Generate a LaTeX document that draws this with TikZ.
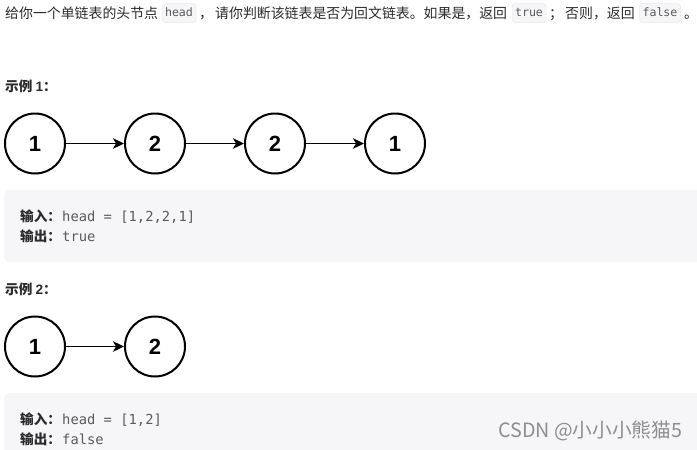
\documentclass[tikz,border=0pt]{standalone}
\usepackage{fontspec}
\setmainfont{Noto Sans CJK SC}
\newfontfamily\numfont{Liberation Sans}
\setmonofont{DejaVu Sans Mono}
\usetikzlibrary{arrows.meta}
\definecolor{boxgray}{HTML}{F6F6F8}
\definecolor{codeline}{HTML}{E9E9EC}
\definecolor{inktext}{HTML}{2B2B2B}
\definecolor{codetext}{HTML}{5A5A5A}
\definecolor{marktext}{HTML}{8E8E8E}
\tikzset{
  listnode/.style={circle,draw,line width=2pt,minimum size=60pt,inner sep=0pt,font=\numfont\bfseries\fontsize{22}{22}\selectfont},
  link/.style={line width=1.8pt,-{Stealth[length=11pt,width=10.5pt,inset=3pt]}},
  plain/.style={anchor=base west,inner sep=0pt,text=inktext,font=\fontsize{13.9}{16}\selectfont},
  heading/.style={plain,font=\bfseries\fontsize{13.6}{16}\selectfont},
  inline/.style={rounded corners=3pt,draw=codeline,fill=boxgray,line width=0.5pt,inner sep=0pt,text=codetext,text height=10pt,text depth=3pt,font=\ttfamily\fontsize{11.6}{14}\selectfont},
  panel/.style={rounded corners=6pt,fill=boxgray},
  code/.style={anchor=base west,inner sep=0pt,text=codetext,font=\ttfamily\fontsize{13.8}{16}\selectfont}
}
\begin{document}
\begin{tikzpicture}[x=1pt,y=-1pt]
  \useasboundingbox (0,0) rectangle (697,450);
  % top line
  \node (t1) [plain] at (5,18) {给你一个单链表的头节点};
  \node (c1) [inline,minimum width=34pt,minimum height=19pt] at (179,13) {head};
  \node (t2) [plain] at (199,18) {，};
  \node (t3) [plain] at (215,18) {请你判断该链表是否为回文链表。如果是，返回};
  \node (c2) [inline,minimum width=34pt,minimum height=19pt] at (529,13) {true};
  \node (t4) [plain] at (549,18) {；};
  \node (t5) [plain] at (565,18) {否则，返回};
  \node (c3) [inline,minimum width=41pt,minimum height=19pt] at (660,13) {false};
  \node (t6) [plain] at (684,18) {。};
  % example 1
  \node (h1) [heading] at (5,91) {示例 {\numfont\bfseries 1}：};
  \node (a1) [listnode] at (35,143.5) {1};
  \node (a2) [listnode,right of=a1,node distance=120pt] {2};
  \node (a3) [listnode,right of=a2,node distance=120pt] {2};
  \node (a4) [listnode,right of=a3,node distance=120pt] {1};
  \draw[link] (a1)--(a2);
  \draw[link] (a2)--(a3);
  \draw[link] (a3)--(a4);
  \fill[panel] (4,190) rectangle (710,262);
  \node (i1) [heading] at (20,221) {输入：};
  \node (v1) [code] at (62,221) {head = [1,2,2,1]};
  \node (o1) [heading] at (20,241) {输出：};
  \node (w1) [code] at (62,241) {true};
  % example 2
  \node (h2) [heading] at (5,294) {示例 {\numfont\bfseries 2}：};
  \node (b1) [listnode] at (35,346.5) {1};
  \node (b2) [listnode,right of=b1,node distance=120pt] {2};
  \draw[link] (b1)--(b2);
  \fill[panel] (4,393) rectangle (710,470);
  \node (i2) [heading] at (20,424) {输入：};
  \node (v2) [code] at (62,424) {head = [1,2]};
  \node (o2) [heading] at (20,444) {输出：};
  \node (w2) [code] at (62,444) {false};
  % watermark
  \node (mark) [anchor=base west,inner sep=0pt,text=marktext,font=\fontsize{19.7}{22}\selectfont] at (498,437) {CSDN @小小小熊猫5};
\end{tikzpicture}
\end{document}
